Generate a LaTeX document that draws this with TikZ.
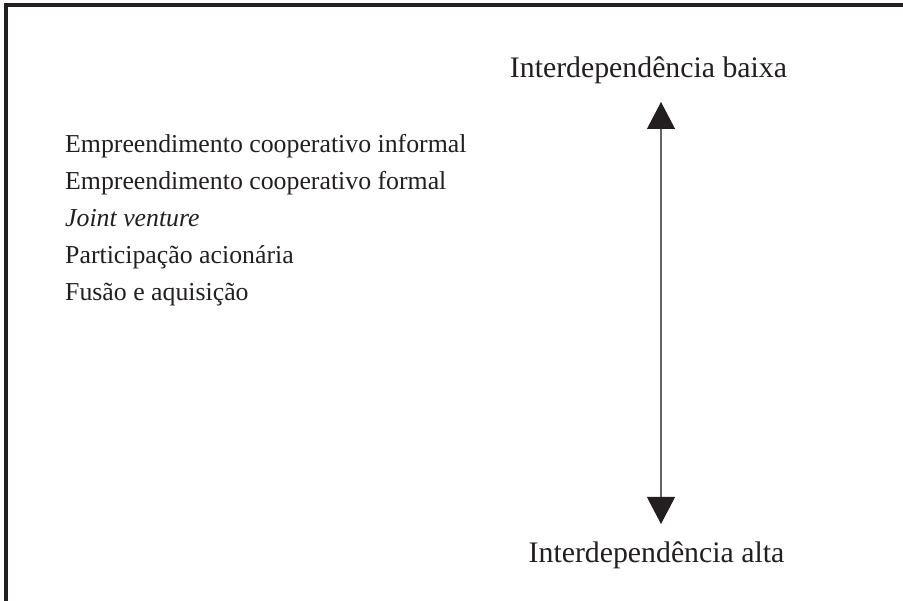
\documentclass[tikz,border=0pt]{standalone}
\usepackage{fontspec}
\setmainfont{Liberation Serif}
\usetikzlibrary{arrows.meta}
\definecolor{ink}{HTML}{231F20}
\tikzset{
  item/.style={anchor=base west, inner sep=0pt, text=ink, font=\fontsize{25.8}{30}\selectfont},
  head/.style={anchor=base, inner sep=0pt, text=ink, font=\fontsize{29.8}{34}\selectfont},
  borderline/.style={draw=ink, line width=3.6pt},
  axisarrow/.style={draw=ink!70, line width=1.1pt, {Triangle[length=27pt,width=28pt,color=ink]}-{Triangle[length=27pt,width=28pt,color=ink]}}
}
\begin{document}
\begin{tikzpicture}[x=1pt,y=-1pt]
\useasboundingbox (0,0) rectangle (903,601);
\fill[white] (0,0) rectangle (903,601);
\coordinate (fb) at (6,601);
\coordinate (fc) at (6,5.3);
\coordinate (fr) at (903,5.3);
\draw[borderline] (fb) -- (fc) -- (fr);
\node[item] (i1) at (65,153) {Empreendimento cooperativo informal};
\node[item] (i2) at (65,190) {Empreendimento cooperativo formal};
\node[item] (i3) at (65,227) {\itshape Joint venture};
\node[item] (i4) at (65,264) {Participação acionária};
\node[item] (i5) at (65,301) {Fusão e aquisição};
\node[head] (hb) at (648.5,78) {Interdependência baixa};
\node[head] (ha) at (656.5,562) {Interdependência alta};
\coordinate (at) at (661,102);
\coordinate (ab) at (661,524);
\draw[axisarrow] (ab) -- (at);
\end{tikzpicture}
\end{document}
